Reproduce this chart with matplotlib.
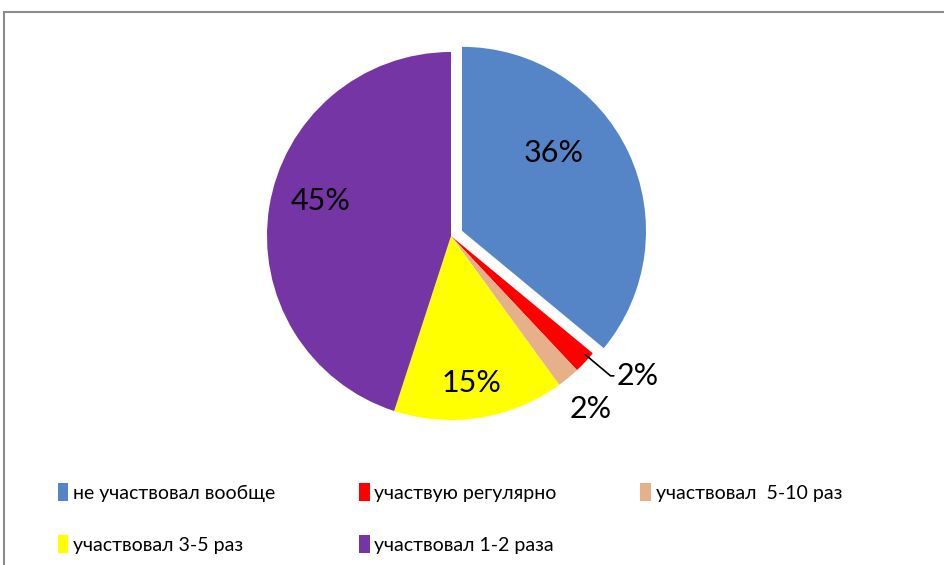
import matplotlib
matplotlib.use("Agg")
import matplotlib.pyplot as plt
from matplotlib.patches import Rectangle

plt.rcParams['font.family'] = ['Lato', 'DejaVu Sans']

categories = ['не участвовал вообще', 'участвую регулярно', 'участвовал  5-10 раз',
              'участвовал 3-5 раз', 'участвовал 1-2 раза']
values = [36, 2, 2, 15, 45]
labels = ['36%', '2%', '2%', '15%', '45%']
colors = ['#5585c6', '#ff0000', '#e6b08a', '#ffff00', '#7535a5']
explode = [0.066, 0, 0, 0, 0]

fig = plt.figure(figsize=(9.44, 5.65), dpi=100)

# chart frame (runs off the right and bottom edge like the original)
fig.patches.append(Rectangle((4 / 944, -0.1), 1.2, 1.1 - 12 / 565, transform=fig.transFigure,
                             fill=False, edgecolor='#8c8c8c', linewidth=1.5))

r = 184
cx, cy = 451, 565 - 236
ax = fig.add_axes([(cx - r) / 944, (cy - r) / 565, 2 * r / 944, 2 * r / 565])
wedges, _ = ax.pie(values, colors=colors, explode=explode, startangle=90, counterclock=False,
                   radius=1, wedgeprops=dict(linewidth=0))
for w in wedges:
    w.set_clip_on(False)
ax.set_xlim(-1, 1)
ax.set_ylim(-1, 1)
ax.set_aspect('equal')
ax.axis('off')

# label spots (in pie radius units)
label_pos = [(0.56, 0.45), None, (0.76, -0.94), (0.11, -0.80), (-0.71, 0.19)]
for i, lab in enumerate(labels):
    if label_pos[i] is None:
        continue
    ax.text(label_pos[i][0], label_pos[i][1], lab, ha='center', va='center', fontsize=22)

ax.annotate(labels[1], xy=(0.73, -0.645), xytext=(0.90, -0.76), ha='left', va='center',
            fontsize=22, annotation_clip=False,
            arrowprops=dict(arrowstyle='-', color='black', lw=1.2,
                            connectionstyle='angle,angleA=0,angleB=-40,rad=0',
                            shrinkA=0, shrinkB=0, relpos=(0, 0.5)))

order = [0, 3, 1, 4, 2]
leg = fig.legend([wedges[i] for i in order], [categories[i] for i in order],
                 loc='lower left', bbox_to_anchor=(40 / 944, -6 / 565), ncol=3, frameon=False,
                 fontsize=14, handlelength=0.55, handleheight=1.1, handletextpad=0.25,
                 columnspacing=4.3, labelspacing=1.7)

plt.savefig('out.png', dpi=100)
